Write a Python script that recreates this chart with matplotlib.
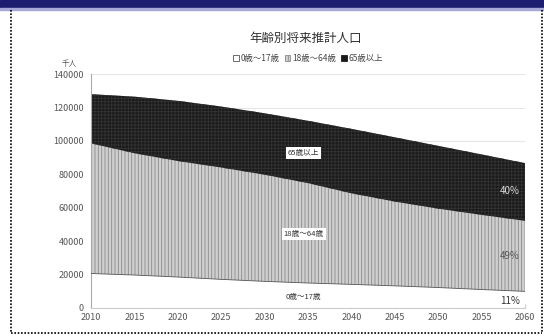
import numpy as np
import matplotlib.pyplot as plt
from matplotlib.patches import Rectangle, Patch
from matplotlib.lines import Line2D
from matplotlib.ticker import MultipleLocator

plt.rcParams['font.family'] = ['Noto Sans CJK JP', 'DejaVu Sans']
plt.rcParams['hatch.linewidth'] = 0.6

years = [2010, 2015, 2020, 2025, 2030, 2035, 2040, 2045, 2050, 2055, 2060]
total = [128057, 126597, 124100, 120659, 116618, 112124, 107276, 102210, 97076, 91933, 86737]
age_65plus = [29484, 33952, 36124, 36573, 36849, 37407, 38678, 38564, 37676, 36257, 34642]
age_0_17 = [20500, 19600, 18400, 17000, 15800, 14800, 14000, 13100, 12100, 10900, 9800]
age_18_64 = [t - a - c for t, a, c in zip(total, age_65plus, age_0_17)]
labels = ['0歳～17歳', '18歳～64歳', '65歳以上']
shares = ['11%', '49%', '40%']

fig = plt.figure(figsize=(5.44, 3.36), dpi=100)

# page frame: navy band and dotted border
fig.add_artist(Rectangle((0, 1 - 8 / 336), 1, 8 / 336, transform=fig.transFigure,
                         color='#1c1c70', zorder=0))
fig.add_artist(Rectangle((0, 1 - 10 / 336), 1, 2 / 336, transform=fig.transFigure,
                         color='#a8a8d8', zorder=0))
for xs, ys in [([11 / 544, 11 / 544], [1 - 10 / 336, 3 / 336]),
               ([542 / 544, 542 / 544], [1 - 10 / 336, 3 / 336]),
               ([11 / 544, 542 / 544], [3 / 336, 3 / 336])]:
    fig.add_artist(Line2D(xs, ys, transform=fig.transFigure, color='black',
                          lw=1.2, ls=(0, (1, 1))))

ax = fig.add_axes([91 / 544, 28.3 / 336, 434 / 544, 233.4 / 336])

x = np.array(years)
y1 = np.array(age_0_17)
y2 = y1 + np.array(age_18_64)
y3 = y2 + np.array(age_65plus)

ax.fill_between(x, 0, y1, facecolor='white', lw=0, zorder=2)
ax.fill_between(x, y1, y2, facecolor='#cfcfcf', hatch='|||||', edgecolor='#8a8a8a',
                lw=0, zorder=2)
ax.fill_between(x, y2, y3, facecolor='#1a1a1a', hatch='+++++', edgecolor='#333333',
                lw=0, zorder=2)
ax.plot(x, y1, color='#555555', lw=0.6, zorder=3)
ax.axvline(2060, ymax=y1[-1] / 140000, color='#cccccc', lw=0.8, zorder=3)

ax.set_xlim(2010, 2060)
ax.set_ylim(0, 140000)
ax.set_yticks(range(0, 140001, 20000))
ax.set_xticks(range(2010, 2061, 5))
ax.xaxis.set_minor_locator(MultipleLocator(1))
ax.grid(axis='y', color='#e6e6e6', lw=0.8, zorder=0)
ax.set_axisbelow(True)
for s in ['top', 'right']:
    ax.spines[s].set_visible(False)
ax.spines['left'].set_color('#aaaaaa')
ax.spines['bottom'].set_color('#cccccc')
ax.tick_params(axis='both', colors='#555555', labelsize=6.5, length=0, pad=5)
ax.tick_params(axis='x', which='both', length=3, color='#d0d0d0', direction='in')
ax.tick_params(axis='x', pad=4)

ax.text(-0.05, 1.035, '千人', transform=ax.transAxes, fontsize=5.5,
        color='#555555', ha='center')

fig.text(0.561, 0.875, '年齢別将来推計人口', ha='center', fontsize=9, color='#333333')
handles = [Patch(facecolor='white', edgecolor='#555555', lw=0.6),
           Patch(facecolor='#cfcfcf', hatch='|||||', edgecolor='#8a8a8a', lw=0.6),
           Patch(facecolor='#1a1a1a', edgecolor='#1a1a1a', lw=0.6)]
leg = ax.legend(handles, labels, loc='lower center', bbox_to_anchor=(0.5, 1.03), ncol=3,
                frameon=False, fontsize=6, handlelength=0.7, handleheight=0.7,
                handletextpad=0.2, columnspacing=0.6, borderpad=0)
for t in leg.get_texts():
    t.set_color('#444444')

box = dict(facecolor='white', edgecolor='none', pad=1.5)
ax.text(2034.5, 93000, labels[2], fontsize=5.5, color='#333333', ha='center',
        va='center', bbox=box, zorder=5)
ax.text(2034.5, 44000, labels[1], fontsize=5.5, color='#333333', ha='center',
        va='center', bbox=box, zorder=5)
ax.text(2034.5, 6500, labels[0], fontsize=5.5, color='#333333', ha='center',
        va='center', zorder=5)

ax.text(2059.4, 2500, shares[0], fontsize=7, color='#333333', ha='right', zorder=5)
ax.text(2059.4, 29500, shares[1], fontsize=7, color='#555555', ha='right', zorder=5)
ax.text(2059.4, 68500, shares[2], fontsize=7, color='#dddddd', ha='right', zorder=5)

fig.savefig('out.png', dpi=100)
